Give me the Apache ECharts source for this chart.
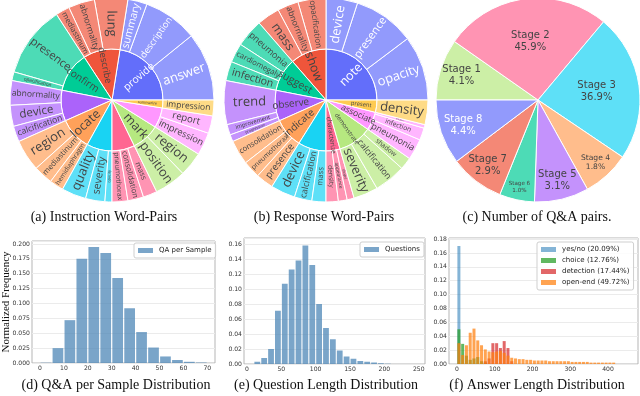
<!DOCTYPE html>
<html>
<head>
<meta charset="utf-8">
<script src="https://cdn.jsdelivr.net/npm/echarts@6/dist/echarts.min.js"></script>
<style>
  html, body { margin: 0; padding: 0; background: #fff; }
  #chart { width: 640px; height: 396px; }
</style>
</head>
<body>
<div id="chart"></div>
<script>
// ---- (a) instruction word pairs: verbs (inner ring) and their nouns (outer ring)
const instrVerbs = ['provide', 'describe', 'confirm', 'identify', 'locate', 'assess', 'detect', 'mark', 'generate', 'summarize'];
const instrWords = [
  ['answer', 'description', 'summary'],
  ['lung', 'abnormality', 'mediastinum'],
  ['presence', 'opacification'],
  ['abnormality', 'device', 'calcification'],
  ['region', 'mediastinum', 'hemidiaphragm'],
  ['quality', 'severity', 'opacity'],
  ['pneumothorax', 'consolidation', 'mass'],
  ['position', 'region'],
  ['impression', 'report'],
  ['impression']
];
const instrShare = [[39, 31, 11], [19, 15, 8], [41, 5], [14, 12, 9], [18, 11, 8], [14, 11, 4], [9, 9, 8], [18, 14], [13, 10], [9]];

// ---- (b) response word pairs
const respVerbs = ['note', 'show', 'suggest', 'observe', 'indicate', 'identify', 'characterize', 'demonstrate', 'associate', 'present'];
const respWords = [
  ['opacity', 'presence', 'device'],
  ['opacification', 'abnormality', 'mass'],
  ['pneumonia', 'cardiomegaly', 'infection'],
  ['trend', 'improvement', 'progression'],
  ['consolidation', 'pneumothorax', 'presence'],
  ['device', 'calcification', 'mass'],
  ['density', 'appearance', 'shape'],
  ['severity', 'calcification', 'shadow'],
  ['pneumonia', 'infection', 'effusion'],
  ['density']
];
const respShare = [[37, 35, 18], [16, 12, 13], [16, 11, 11], [25, 6, 4], [14, 10, 10], [14, 10, 8], [7, 5, 4], [14, 18, 7], [12, 7, 2], [14]];

// ---- (c) number of Q&A pairs
const stageNames = ['Stage 1', 'Stage 2', 'Stage 3', 'Stage 4', 'Stage 5', 'Stage 6', 'Stage 7', 'Stage 8'];
const stagePct = [4.1, 45.9, 36.9, 1.8, 3.1, 1.0, 2.9, 4.4];
const stageSweep = [35, 95, 84, 27, 31, 20, 31, 37];

// ---- (d) Q&A per sample
const qaBins = [2.5, 7.5, 12.5, 17.5, 22.5, 27.5, 32.5, 37.5, 42.5, 47.5, 52.5, 57.5, 62.5, 67.5];
const qaFreq = [0.0005, 0.025, 0.072, 0.175, 0.195, 0.185, 0.143, 0.092, 0.052, 0.026, 0.011, 0.005, 0.002, 0.0008];

// ---- (e) question length
const qBins = [15, 25, 35, 45, 55, 65, 75, 85, 95, 105, 115, 125, 135, 145, 155, 165, 175, 185, 195, 205];
const qFreq = [0.003, 0.008, 0.020, 0.071, 0.107, 0.126, 0.138, 0.158, 0.132, 0.080, 0.048, 0.033, 0.018, 0.010, 0.007, 0.004, 0.003, 0.002, 0.001, 0.0004];

// ---- (f) answer length by type
const yesNoBins = [5];
const yesNoFreq = [0.170];
const choiceBins = [5, 15, 25, 35, 45, 55, 65, 75];
const choiceFreq = [0.050, 0.029, 0.012, 0.006, 0.008, 0.010, 0.004, 0.002];
const detectBins = [75, 85, 95, 105, 115, 125, 135, 145];
const detectFreq = [0.004, 0.008, 0.030, 0.030, 0.023, 0.033, 0.023, 0.004];
const openBins = [5, 15, 25, 35, 45, 55, 65, 75, 85, 95, 105, 115, 125, 135, 145, 155, 165, 175, 185, 195,
  205, 215, 225, 235, 245, 255, 265, 275, 285, 295, 305, 315, 325, 335, 345, 355, 365, 375, 385, 395, 405, 415];
const openFreq = [0.030, 0.013, 0.027, 0.045, 0.051, 0.034, 0.027, 0.021, 0.018, 0.017, 0.018, 0.019, 0.016, 0.012, 0.009, 0.008, 0.007, 0.007, 0.006, 0.006,
  0.005, 0.005, 0.005, 0.005, 0.004, 0.004, 0.004, 0.004, 0.004, 0.004, 0.003, 0.003, 0.003, 0.003, 0.003, 0.002, 0.002, 0.002, 0.002, 0.002, 0.002, 0.002];
const answerTypes = ['yes/no (20.09%)', 'choice (12.76%)', 'detection (17.44%)', 'open-end (49.72%)'];

const PLOTLY = ['#636efa', '#EF553B', '#00cc96', '#ab63fa', '#FFA15A', '#19d3f3', '#FF6692', '#B6E880', '#FF97FF', '#FECB52'];
const RAD = Math.PI / 180;
const SANS = 'DejaVu Sans';
const TICK = 6.1;

function fade(hex, a) {
  const n = parseInt(hex.slice(1), 16);
  const m = c => Math.round(c * a + 255 * (1 - a));
  return 'rgb(' + m(n >> 16) + ',' + m((n >> 8) & 255) + ',' + m(n & 255) + ')';
}

// shrink the label so it fits the ring thickness and the arc, like plotly does
const measure = document.createElement('canvas').getContext('2d');
function fitSize(text, room, arc, cap) {
  measure.font = '10px "Open Sans"';
  const w = measure.measureText(text).width;
  return +Math.max(2, Math.min(cap, 10 * room / w, arc * 0.72)).toFixed(1);
}

function wordTree(verbs, words, share) {
  return verbs.map((verb, i) => {
    const ink = i === 0 ? '#fff' : '#444';
    const leaf = fade(PLOTLY[i], 0.7);
    return {
      name: verb,
      itemStyle: { color: PLOTLY[i] },
      children: words[i].map((w, j) => ({
        name: w,
        value: share[i][j],
        itemStyle: { color: leaf },
        label: { color: ink, fontSize: fitSize(w, 48, 76 * share[i][j] * RAD, 13) }
      }))
    };
  });
}

function verbLabels(verbs, share) {
  return verbs.map((verb, i) => {
    const deg = share[i].reduce((a, b) => a + b, 0);
    return {
      name: verb,
      value: deg,
      label: { color: i === 0 ? '#fff' : '#444', fontSize: fitSize(verb, 37, 33 * deg * RAD, 12.5) }
    };
  });
}

function sunburst(center, verbs, words, share) {
  return [{
    type: 'sunburst',
    center: center,
    radius: [0, 102],
    startAngle: 0,
    clockwise: false,
    sort: null,
    nodeClick: false,
    silent: true,
    emphasis: { disabled: true },
    itemStyle: { borderColor: '#fff', borderWidth: 1 },
    label: { rotate: 'radial', fontFamily: 'Open Sans' },
    levels: [{}, { r0: 0, r: 51, label: { show: false } }, { r0: 51, r: 102 }],
    data: wordTree(verbs, words, share)
  }, {
    // inner ring labels sit a bit further out than the ring middle
    type: 'pie',
    center: center,
    radius: [14, 51],
    startAngle: 0,
    clockwise: false,
    silent: true,
    z: 5,
    emphasis: { disabled: true },
    itemStyle: { color: 'rgba(0,0,0,0)', borderWidth: 0 },
    label: { position: 'inside', rotate: 'radial', fontFamily: 'Open Sans' },
    labelLine: { show: false },
    data: verbLabels(verbs, share)
  }];
}

const grids = [], xAxes = [], yAxes = [], series = [], legends = [];

function histPanel(p) {
  const g = grids.length;
  // outer frame with y labels + grid lines
  grids.push({ left: p.frame[0], top: p.frame[1], width: p.frame[2], height: p.frame[3], show: true, borderColor: '#b5b5b5', borderWidth: 1 });
  xAxes.push({ gridIndex: g, type: 'value', min: 0, max: 1, show: false });
  yAxes.push({
    gridIndex: g, type: 'value', min: 0, max: p.yMax, interval: p.yStep,
    axisLine: { show: false }, axisTick: { show: false },
    axisLabel: { fontSize: TICK, color: '#333', fontFamily: SANS, margin: 2, showMaxLabel: false, formatter: v => v.toFixed(p.digits) },
    splitLine: { lineStyle: { color: '#ebebeb', width: 1 } }
  });
  // data area, from the first to the last x tick
  grids.push({ left: p.plot[0], top: p.frame[1], width: p.plot[1] - p.plot[0], height: p.frame[3] });
  xAxes.push({
    gridIndex: g + 1, type: 'value', min: 0, max: p.xMax, interval: p.xStep,
    axisLine: { show: false }, axisTick: { show: false }, splitLine: { show: false },
    axisLabel: { fontSize: TICK, color: '#333', fontFamily: SANS, margin: 2 }
  });
  yAxes.push({ gridIndex: g + 1, type: 'value', min: 0, max: p.yMax, show: false });
  return g + 1;
}

function bars(idx, name, bins, freq, color, width) {
  return {
    type: 'bar', name: name, xAxisIndex: idx, yAxisIndex: idx, barWidth: width, barGap: '-100%',
    clip: false, silent: true, itemStyle: { color: color },
    data: bins.map((b, i) => [b, freq[i]])
  };
}

function histLegend(left, top, names) {
  return {
    left: left, top: top, orient: 'vertical', itemWidth: 15, itemHeight: 5, itemGap: 2,
    icon: 'rect', padding: [3, 4, 3, 4], borderColor: '#cfcfcf', borderWidth: 1, borderRadius: 2,
    backgroundColor: 'rgba(255,255,255,0.85)', selectedMode: false,
    textStyle: { fontSize: 7, fontFamily: SANS, color: '#222', lineHeight: 9, padding: [0, 0, 0, 1] },
    data: names
  };
}

const STEEL = 'rgba(70,130,180,0.72)';

const dIdx = histPanel({ frame: [32, 241, 183, 122], plot: [40, 207.3], yMax: 0.205, yStep: 0.025, digits: 3, xMax: 70, xStep: 10 });
series.push(bars(dIdx, 'QA per Sample', qaBins, qaFreq, STEEL, 10.7));
legends.push(histLegend(134, 243, ['QA per Sample']));

const eIdx = histPanel({ frame: [244, 238, 181, 126], plot: [247, 418.7], yMax: 0.168, yStep: 0.02, digits: 2, xMax: 250, xStep: 50 });
series.push(bars(eIdx, 'Questions', qBins, qFreq, STEEL, 5.8));
legends.push(histLegend(360, 242, ['Questions']));

const fIdx = histPanel({ frame: [449, 238, 189, 126], plot: [457, 608], yMax: 0.1815, yStep: 0.02, digits: 2, xMax: 400, xStep: 100 });
series.push(bars(fIdx, answerTypes[0], yesNoBins, yesNoFreq, 'rgba(31,119,180,0.55)', 3));
series.push(bars(fIdx, answerTypes[1], choiceBins, choiceFreq, 'rgba(44,160,44,0.75)', 3));
series.push(bars(fIdx, answerTypes[2], detectBins, detectFreq, 'rgba(214,39,40,0.7)', 3));
series.push(bars(fIdx, answerTypes[3], openBins, openFreq, 'rgba(255,127,14,0.72)', 3));
legends.push(histLegend(537, 242, answerTypes));

series.push(...sunburst([112, 100], instrVerbs, instrWords, instrShare));
series.push(...sunburst([326, 100], respVerbs, respWords, respShare));

// (c) pie: slice sweep as drawn, label shows the share
const pieCenter = [538, 100], pieR = 102;
const sweepTotal = stageSweep.reduce((a, b) => a + b, 0);
series.push({
  type: 'pie',
  center: pieCenter,
  radius: [0, pieR],
  startAngle: 180,
  clockwise: true,
  silent: true,
  emphasis: { disabled: true },
  itemStyle: { borderColor: '#fff', borderWidth: 1 },
  labelLine: { show: false },
  label: {
    position: 'inside', fontFamily: SANS,
    formatter: p => p.name + '\n' + stagePct[p.dataIndex].toFixed(1) + '%'
  },
  labelLayout: p => {
    const i = p.dataIndex;
    let before = 0;
    for (let k = 0; k < i; k++) before += stageSweep[k];
    const sweep = stageSweep[i] * 360 / sweepTotal;
    const mid = (180 - (before * 360 / sweepTotal + sweep / 2)) * RAD;
    const rf = sweep > 60 ? 0.58 : Math.min(0.88, 0.81 + (31 - sweep) * 0.006);
    return {
      x: pieCenter[0] + Math.cos(mid) * pieR * rf,
      y: pieCenter[1] - Math.sin(mid) * pieR * rf,
      align: 'center', verticalAlign: 'middle'
    };
  },
  data: stageNames.map((n, i) => {
    const fs = stageSweep[i] >= 30 ? 10 : +(stageSweep[i] * 0.28).toFixed(1);
    return {
      name: n,
      value: stageSweep[i],
      itemStyle: { color: fade(PLOTLY[7 - i], 0.7) },
      label: { fontSize: fs, lineHeight: fs * 1.2, color: i === 7 ? '#fff' : '#444' }
    };
  })
});

const SERIF = '"Liberation Serif", "Times New Roman", serif';
function caption(text, x, y) {
  return { type: 'text', x: x, y: y, silent: true, style: { text: text, font: '14px ' + SERIF, fill: '#111', textAlign: 'center', textVerticalAlign: 'middle' } };
}

const chart = echarts.init(document.getElementById('chart'), null, { renderer: 'canvas' });
chart.setOption({
  animation: false,
  backgroundColor: '#fff',
  grid: grids,
  xAxis: xAxes,
  yAxis: yAxes,
  legend: legends,
  series: series,
  graphic: [
    caption('(a) Instruction Word-Pairs', 104, 217),
    caption('(b) Response Word-Pairs', 324, 217),
    caption('(c) Number of Q&A pairs.', 537, 217),
    caption('(d) Q&A per Sample Distribution', 116, 385),
    caption('(e) Question Length Distribution', 326, 385),
    caption('(f) Answer Length Distribution', 537, 385),
    {
      type: 'text', x: 6, y: 302, rotation: Math.PI / 2, silent: true,
      style: { text: 'Normalized Frequency', font: '11px ' + SERIF, fill: '#111', textAlign: 'center', textVerticalAlign: 'middle' }
    }
  ]
});
</script>
</body>
</html>
